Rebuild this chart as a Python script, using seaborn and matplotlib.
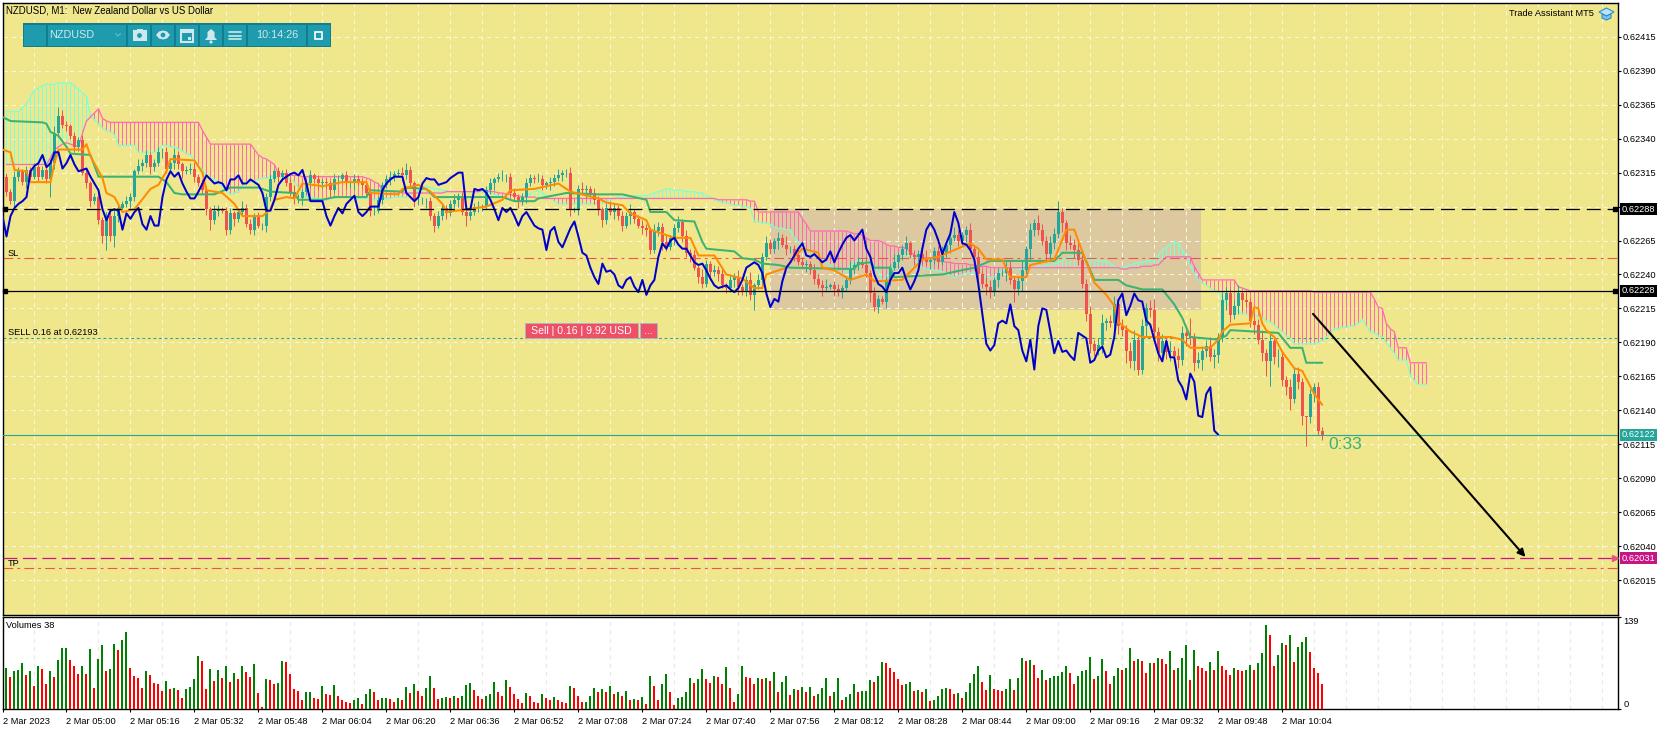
import numpy as np
import matplotlib
matplotlib.use("Agg")
import matplotlib.pyplot as plt
from matplotlib.patches import Rectangle, Circle, Polygon
import seaborn as sns

# M1 closes, read in points (1e-5). Blue chikou line is the same series moved 26 bars back
closes = [
    62301,62294,62312,62316,62308,62317,62312,62319,62312,62317,
    62310,62322,62344,62357,62350,62349,62342,62334,62339,62315,
    62307,62294,62297,62280,62268,62283,
    62268,62283,62289,62292,62294,62297,62316,62320,62322,62328,
    62319,62322,62330,62330,62318,62322,62328,62321,62316,62317,
    62318,62312,62307,62302,62288,62280,62287,62288,62287,62273,
    62285,62281,62286,62289,62277,62273,62283,62276,62276,62297,
    62310,62316,62312,62315,62307,62301,62296,62296,62301,62307,
    62313,62310,62307,62308,62307,62302,62310,62310,62313,62307,
    62307,62310,62308,62306,62300,62287,62287,62295,62306,62310,
    62312,62314,62315,62313,62317,62307,62294,62294,62294,62294,
    62283,62276,62283,62289,62285,62292,62295,62298,62286,62283,
    62286,62290,62290,62290,62302,62307,62310,62312,62312,62312,
    62300,62297,62294,62297,62307,62311,62310,62310,62306,62307,
    62308,62311,62313,62315,62315,62288,62288,62303,62302,62303,
    62300,62295,62288,62280,62289,62286,62289,62283,62276,62283,
    62286,62281,62276,62274,62273,62258,62272,62275,62264,
    62260,62267,62274,62279,62268,62256,62254,62245,62238,62233,
    62248,62242,62243,62240,62232,62230,62236,62238,62231,62227,
    62236,62225,62232,62236,62253,62263,62259,62265,62267,62262,
    62259,62259,62254,62249,62247,62248,62243,62237,62232,62230,
    62231,62232,62229,62227,62230,62236,62245,62247,62249,62247,
    62241,62226,62216,62222,62220,62235,62245,62249,62254,62259,
    62263,62254,62253,62255,62252,62249,62251,62257,62249,62256,
    62262,62267,62269,62265,62269,62273,62259,62253,62240,62233,
    62231,62227,62236,62241,62241,62245,62236,62229,62235,62243,
    62259,62273,62278,62273,62265,62255,62263,62270,62286,62278,
    62263,
    62262,62258,62251,62233,62211,62189,62184,62188,62204,62206,
    62204,62218,62202,62199,62184,62176,62192,62170,62202,62215,
    62214,62198,62182,62191,62183,62184,62180,62177,62197,62195,
    62193,62175,62177,62184,62187,62179,62181,62194,62221,
    62226,62210,62217,62226,62221,62220,62206,62203,62192,62182,
    62176,62191,62179,62179,62162,62157,62148,62167,62161,62136,
    62135,62152,62157,62125,62122,
]
first_open = 62312
wick_up = [
    3,2,4,3,2,3,2,3,2,3, 2,3,5,6,4,3,2,3,2,4, 3,2,3,4,2,3,4,5,3,2,
    4,3,2,5,3,4,2,3,4,3, 4,2,5,3,2,3,4,5,2,3, 3,2,4,3,2,3,4,2,3,5,
    3,4,2,3,2,3,4,2,3,2, 3,4,5,3,2,3,4,2,3,2, 3,2,4,3,2,3,2,4,3,2,
    3,2,4,3,2,3,4,2,3,4, 5,3,2,4,3,2,3,2,4,3, 2,3,4,2,3,5,2,3,4,2,
    3,4,2,3,5,2,3,4,2,3, 4,3,2,5,3,2,4,3,5,2, 3,4,2,3,5,3,2,4,3,2,
    4,5,3,2,4,3,6,2,3,4, 3,2,5,4,3,6,2,3,4,2, 5,3,4,2,6,3,2,4,3,5,
    2,4,3,5,2,3,6,2,4,3, 5,3,2,4,3,6,2,3,5,4, 3,2,5,3,4,6,2,3,4,2,
    3,5,2,4,3,6,2,5,3,2, 4,3,6,2,3,5,2,4,3,5, 6,2,3,4,5,2,3,6,4,2,
    3,5,2,4,3,6,5,2,4,3, 5,6,3,4,7,2,5,3,6,4, 3,5,4,8,3,2,6,4,5,3,
    4,6,3,5,7,2,4,6,3,5, 4,6,7,3,5,4,6,8,3,5, 4,7,3,6,5,2,13,4,6,3,
    5,7,4,3,6,5,3,4,6,2, 5,3,6,4,7,3,5,4,6,5, 3,6,4,5,3,0,4,3,4,3,
]
wick_dn = [
    3,2,4,3,2,4,3,2,3,2, 3,13,4,3,2,3,2,4,3,2, 3,4,2,3,5,10,3,8,4,3,
    2,5,3,2,4,3,5,3,2,4, 3,2,4,3,5,2,3,4,2,3, 4,7,3,4,2,4,3,5,2,3,
    2,3,4,2,3,5,3,2,4,3, 2,3,4,3,5,2,3,2,4,3, 3,4,2,3,2,4,3,5,2,3,
    2,4,3,2,3,2,4,3,2,4, 3,2,4,3,2,5,3,5,2,3, 4,2,3,5,2,7,3,2,4,3,
    2,3,5,2,3,4,3,2,5,3, 4,2,3,2,4,3,5,3,2,4, 3,5,2,4,3,6,2,3,4,5,
    3,2,5,3,4,2,6,3,2,4, 5,3,2,4,6,3,2,5,3,4, 3,5,2,4,3,2,6,3,5,2,
    4,3,5,6,2,3,4,11,3,5, 2,4,3,6,2,5,3,4,2,3, 5,3,4,2,6,3,2,5,3,4,
    2,3,5,4,2,3,6,3,4,2, 5,3,2,4,3,5,2,6,3,4, 2,5,3,4,2,3,6,2,4,3,
    5,2,4,8,3,6,4,3,5,2, 6,3,9,4,7,3,8,5,4,3, 6,5,4,3,7,5,3,6,4,3,
    5,7,4,3,6,5,3,8,6,4, 9,5,6,4,3,7,5,8,6,4, 5,7,3,6,4,8,5,6,4,7,
    5,3,8,6,4,7,5,3,6,8, 4,5,7,3,6,11,18,5,7,4, 6,8,3,5,7,21,4,6,3,4,
]
volumes = [
    62,48,58,59,70,52,58,35,65,60, 38,58,48,74,92,92,74,65,53,65,
    53,90,32,76,96,58,60,98,89,104, 116,62,50,47,32,58,52,40,38,28,
    42,30,32,29,17,30,34,46,80,72, 30,60,42,59,47,65,41,54,46,65,
    56,48,68,24,4,46,44,38,40,72, 71,53,30,28,14,26,26,17,15,35,
    23,22,36,20,14,11,10,14,17,8, 23,30,26,14,17,17,15,11,17,14,
    34,24,38,28,20,32,50,32,15,17, 18,17,20,17,20,36,40,29,20,15,
    20,23,41,26,20,44,34,23,15,10, 24,20,11,10,23,17,14,18,14,11,
    10,35,32,20,11,11,20,32,26,30, 26,35,23,26,20,28,14,15,14,18,
    8,50,35,14,38,53,26,6,17,18, 26,47,40,46,60,46,40,50,48,38,
    64,32,11,23,65,48,47,38,47,46, 47,42,56,26,41,50,22,30,29,34,
    26,34,20,23,32,47,20,26,47,14, 18,23,38,26,28,28,44,41,50,71,
    70,62,56,46,36,38,41,28,29,26, 30,12,14,20,30,32,30,23,24,17,
    26,40,53,65,41,29,52,30,29,28, 30,46,29,47,77,72,74,66,47,59,
    44,47,50,50,56,65,54,38,50,58, 59,78,46,50,76,58,38,50,62,59,
    62,92,72,76,72,54,70,69,77,76, 68,88,59,62,77,96,44,89,65,62,
    58,71,59,88,65,59,52,62,59,58, 59,66,59,70,85,126,112,65,82,100,
    96,112,71,94,101,108,86,62,54,38,
]
# Ichimoku cloud, one value per bar including the 26 bars ahead
span_a = [
    62360,62360,62360,62360,62363,62366,62371,62376,62377,62379,
    62380,62380,62380,62381,62381,62381,62381,62379,62376,62374,
    62371,62357,62354,62351,62348,62346,62345,62343,62335,62335,
    62335,62335,62335,62330,62330,62330,62330,62330,62332,62335,
    62335,62334,62334,62332,62331,62329,62328,62324,62320,62317,
    62313,62311,62310,62307,62305,62302,62299,62300,62301,62305,
    62308,62309,62309,62310,62311,62311,62312,62312,62312,62312,
    62312,62310,62308,62304,62301,62297,62297,62296,62296,62295,
    62295,62296,62296,62297,62297,62297,62297,62296,62296,62296,
    62296,62296,62295,62296,62296,62296,62296,62297,62297,62297,
    62297,62299,62300,62302,62304,62305,62304,62303,62303,62302,
    62302,62301,62301,62301,62301,62301,62301,62301,62301,62301,
    62301,62300,62299,62298,62297,62296,62295,62294,62295,62297,
    62298,62300,62301,62302,62300,62298,62296,62294,62292,62292,
    62292,62292,62292,62292,62292,62292,62292,62292,62292,62293,
    62294,62295,62296,62297,62297,62297,62297,62298,62298,62298,
    62298,62299,62300,62301,62302,62303,62303,62302,62302,62302,
    62301,62301,62301,62300,62300,62298,62297,62295,62294,62293,
    62293,62292,62291,62291,62290,62290,62289,62279,62279,62278,
    62278,62277,62275,62274,62274,62273,62273,62267,62264,62261,
    62258,62256,62254,62253,62251,62249,62247,62244,62242,62240,
    62243,62246,62248,62251,62251,62251,62248,62246,62243,62235,
    62238,62242,62246,62250,62254,62254,62254,62251,62248,62245,
    62244,62244,62243,62243,62242,62241,62239,62238,62239,62240,
    62241,62241,62242,62238,62238,62238,62238,62238,62240,62243,
    62243,62244,62244,62244,62244,62245,62245,62245,62246,62246,
    62247,62247,62248,62249,62250,62252,62253,62254,62252,62251,
    62251,62251,62251,62250,62250,62250,62248,62246,62244,62245,
    62246,62247,62248,62249,62249,62250,62250,62250,62254,62258,
    62260,62262,62264,62263,62258,62253,62247,62241,62236,62234,
    62232,62230,62228,62227,62223,62219,62217,62215,62213,62211,
    62211,62210,62210,62209,62208,62206,62205,62203,62200,62198,
    62195,62193,62189,62189,62189,62189,62189,62189,62190,62191,
    62194,62197,62200,62200,62201,62201,62202,62202,62204,62207,
    62202,62198,62197,62195,62194,62190,62186,62182,62177,62177,
    62177,62166,62162,62159,62159,62159,
]
span_b = (
    [62321]*11 + [62326,62332,62334,62336,62337,62336,62335,62334,62344,
    62353,62356,62359,62362,62355,62353] + [62352]*23 + [62346,62341]
    + [62336]*11 + [62332,62328,62326,62325,62323,62321,62314,62314,62314,
    62313,62313,62313] + [62312]*16 + [62311,62310,62308,62307,62302,62302,
    62301,62301,62301] + [62300]*11 + [62301]*9 + [62302]*2
    + [62301,62301,62300,62300,62299,62299,62298,62298,62297,62297,62297,
    62297] + [62296]*45 + [62295]*8 + [62294]*2 + [62286]*11
    + [62281,62277] + [62272]*10 + [62271,62270,62270,62269,62267,62265,
    62265,62265,62264,62262,62261,62261,62260,62260,62259,62257,62254,
    62253,62253,62252,62252,62251,62250,62250,62249,62249] + [62248]*4
    + [62247]*2 + [62246]*3 + [62245]*33 + [62244]*2
    + [62245,62245,62245,62246,62246,62246,62247,62247,62250]
    + [62253]*7 + [62246,62241] + [62236]*9 + [62231,62230,62229]
    + [62228]*16 + [62227]*15 + [62222,62216,62215,62204,62200,62198]
    + [62186]*3 + [62175]*5
)
kijun_bars = [-1,1,9,10,11,13,15,16,21,23,38,40,42,44,52,56,63,66,72,73,79,82,90,91,99,100,105,107,124,127,132,133,
              140,148,154,160,161,165,167,172,174,175,182,184,187,189,193,196,212,213,216,217,221,222,234,237,242,246,
              262,264,269,271,272,278,280,284,289,292,294,296,303,305,306,318,321,324,325,329]
kijun = [62356,62353,62352,62351,62345,62342,62334,62329,62328,62312,62312,62308,62300,62299,62299,62304,62304,62301,
         62300,62295,62295,62297,62297,62302,62301,62304,62303,62297,62297,62294,62294,62296,
         62300,62299,62299,62295,62286,62286,62280,62279,62264,62259,62257,62252,62251,62248,62247,62245,62244,62248,
         62249,62245,62245,62238,62240,62242,62245,62250,
         62250,62256,62256,62243,62236,62236,62232,62229,62229,62218,62208,62194,62192,62195,62199,62197,62186,62186,62175,62175]
tenkan_bars = [-1,1,2,5,6,11,12,13,19,20,21,24,25,27,29,32,36,38,40,41,47,49,50,54,57,59,64,66,67,70,72,74,79,84,90,91,98,99,
               103,106,109,110,115,120,124,126,132,138,141,148,150,154,156,160,161,164,165,167,171,173,177,180,184,187,189,
               190,195,197,199,203,204,207,211,215,217,224,229,233,241,243,245,249,251,255,256,262,265,267,269,272,275,277,
               278,281,284,291,294,296,301,303,304,306,311,312,313,314,315,317,319,322,324,327,329]
tenkan = [62332,62330,62317,62316,62308,62308,62322,62332,62332,62336,62327,62311,62300,62297,62286,62288,62303,62306,
          62316,62325,62324,62315,62302,62300,62292,62283,62283,62288,62295,62297,62296,62307,62305,62308,62308,62300,62299,62303,
          62306,62301,62292,62286,62288,62290,62295,62302,62303,62307,62301,62296,62293,62291,62285,62280,62273,62270,62269,62267,
          62267,62254,62254,62240,62237,62230,62230,
          62240,62245,62253,62259,62256,62245,62243,62236,62240,62235,62236,62251,62253,62263,62259,62251,62251,62238,62238,62247,
          62251,62273,62273,62257,62234,62225,62217,
          62205,62198,62194,62194,62192,62186,62186,62192,62198,62203,62204,62216,62215,62204,62199,62194,62183,62171,62169,62152,62144]
price_ticks = [62015,62040,62065,62090,62115,62140,62165,62190,62215,62240,62265,62290,62315,62340,62365,62390,62415]
time_labels = ["2 Mar 05:00","2 Mar 05:16","2 Mar 05:32","2 Mar 05:48","2 Mar 06:04","2 Mar 06:20","2 Mar 06:36",
               "2 Mar 06:52","2 Mar 07:08","2 Mar 07:24","2 Mar 07:40","2 Mar 07:56","2 Mar 08:12","2 Mar 08:28",
               "2 Mar 08:44","2 Mar 09:00","2 Mar 09:16","2 Mar 09:32","2 Mar 09:48","2 Mar 10:04"]

sns.set_theme(style="white", rc={"lines.scale_dashes": False, "axes.linewidth": 1.0})
plt.rcParams["font.family"] = ["Liberation Sans", "DejaVu Sans"]

W, H = 1670, 730
FS = 6.7
LINE_W = 1.45
closes_p = np.array(closes) / 1e5
opens_p = np.r_[first_open / 1e5, closes_p[:-1]]
highs = np.maximum(opens_p, closes_p) + np.array(wick_up) / 1e5
lows = np.minimum(opens_p, closes_p) - np.array(wick_dn) / 1e5
bars = np.arange(len(closes))
x_min, x_max = (2.5 - 6.2) / 4, (1617.5 - 6.2) / 4

fig = plt.figure(figsize=(W / 100, H / 100), dpi=100, facecolor="white")
ax = fig.add_axes([2.5 / W, 1 - 615 / H, 1615 / W, 612.5 / H], facecolor="#F0E68C")
ax_vol = fig.add_axes([2.5 / W, 1 - 709.3 / H, 1615 / W, 92.8 / H], facecolor="white")
ui = fig.add_axes([0, 0, 1, 1], zorder=5)
ui.set_xlim(0, W); ui.set_ylim(H, 0); ui.axis("off"); ui.patch.set_alpha(0)

# main panel
y_top, y_bot = 0.62288 + 206.8 / 135800, 0.62288 - 405.7 / 135800
ax.set_xlim(x_min, x_max)
ax.set_ylim(y_bot, y_top)
ax.add_patch(Rectangle((191, 0.62214), 107.6, 0.00074, color="#DCC9A0", lw=0, zorder=0.3))
ax.set_axisbelow(True)

grid_bars = np.arange(-1, 403, 8)
for a in (ax, ax_vol):
    a.set_xlim(x_min, x_max)
    for s in a.spines.values():
        s.set_color("black")

ax.set_xticks(grid_bars)
ax.set_yticks(np.array(price_ticks) / 1e5)
ax.set_yticklabels([f"{p / 1e5:.5f}" for p in price_ticks], fontsize=FS, color="black")
ax.yaxis.tick_right()
ax.tick_params(axis="x", length=0, labelbottom=False)
ax.tick_params(axis="y", length=2.5, width=0.8, pad=1, color="black", right=True)
ax.grid(True, color="#FBF8E4", lw=0.7, ls=(0, (3, 3)))

# cloud
cloud_bars = np.arange(len(span_a))
a_p, b_p = np.array(span_a) / 1e5, np.array(span_b) / 1e5
up_cloud = a_p >= b_p
ax.vlines(cloud_bars[up_cloud], b_p[up_cloud], a_p[up_cloud], color="#7FFFD4", lw=0.72, zorder=1)
ax.vlines(cloud_bars[~up_cloud], a_p[~up_cloud], b_p[~up_cloud], color="#FF69B4", lw=0.72, zorder=1)
sns.lineplot(x=cloud_bars, y=a_p, color="#7FFFD4", lw=0.9, ax=ax, zorder=1.1, estimator=None, legend=False)
sns.lineplot(x=cloud_bars, y=b_p, color="#FF69B4", lw=0.9, ax=ax, zorder=1.1, estimator=None, legend=False)

# candles
candle_cols = np.where(closes_p >= opens_p, "#26A69A", "#EF5350")
ax.vlines(bars, lows, highs, colors=candle_cols, lw=0.72, zorder=2)
ax.bar(bars, np.abs(closes_p - opens_p), bottom=np.minimum(opens_p, closes_p), width=0.74, color=candle_cols, lw=0, zorder=2.1)

# indicator lines
sns.lineplot(x=kijun_bars, y=np.array(kijun) / 1e5, color="#3CB371", lw=LINE_W, ax=ax, zorder=3, estimator=None, sort=False, legend=False)
sns.lineplot(x=tenkan_bars, y=np.array(tenkan) / 1e5, color="#FF8C00", lw=LINE_W, ax=ax, zorder=3.1, estimator=None, sort=False, legend=False)
sns.lineplot(x=bars[25:] - 26, y=closes_p[25:], color="#0000CD", lw=LINE_W, ax=ax, zorder=3.2, estimator=None, sort=False, legend=False)

# price lines
ax.axhline(0.62288, color="black", lw=0.9, ls=(0, (10, 5)), zorder=4)
ax.axhline(0.62228, color="black", lw=0.9, zorder=4)
ax.axhline(0.62252, color="#EF5350", lw=0.8, ls=(0, (7, 3, 2, 3)), zorder=1.5)
ax.axhline(0.62024, color="#EF5350", lw=0.8, ls=(0, (7, 3, 2, 3)), zorder=1.5)
ax.axhline(0.62193, color="#26A69A", lw=0.75, ls=(0, (2, 2)), zorder=1.5)
ax.axhline(0.62122, color="#26A69A", lw=0.8, zorder=4)
ax.axhline(0.62031, color="#C71585", lw=0.9, ls=(0, (10, 4)), zorder=4)
ax.annotate("", xy=(379.8, 0.62032), xytext=(326.7, 0.62211),
            arrowprops=dict(arrowstyle="-|>", color="black", lw=1.5, shrinkA=0, shrinkB=0, mutation_scale=11), zorder=4.5)
trans = ax.get_yaxis_transform()
for level in (0.62288, 0.62228):
    ax.plot([0.0015, 0.9985], [level, level], ls="", marker="s", ms=3.5, color="black", transform=trans, zorder=5, clip_on=False)
ax.plot([0.9985], [0.62031], ls="", marker=">", ms=4, color="#E75480", transform=trans, zorder=5, clip_on=False)
for level, bg in ((0.62288, "black"), (0.62228, "black"), (0.62122, "#26A69A"), (0.62031, "#C71585")):
    ax.text(1.0026, level, f"{level:.5f}", color="white", fontsize=FS, va="center", ha="left", transform=trans, zorder=6,
            bbox=dict(boxstyle="square,pad=0.17", fc=bg, ec=bg, lw=0), clip_on=False)
ax.text(330.5, 0.62122 - 0.00007, "0:33", color="#3CB371", fontsize=12.5, va="center", ha="left", zorder=5)

# volume panel
vol = np.array(volumes)
vol_dir = np.where(np.r_[True, vol[1:] >= vol[:-1]], "up", "down")
sns.barplot(x=bars, y=vol, hue=vol_dir, palette={"up": "#008000", "down": "#FF0000"}, native_scale=True, dodge=False,
            width=0.5, saturation=1, legend=False, ax=ax_vol, zorder=3, linewidth=0)
ax_vol.set_xlim(x_min, x_max)
ax_vol.set_ylim(0, 139.5)
ax_vol.set_xlabel(""); ax_vol.set_ylabel("")
ax_vol.set_axisbelow(True)
ax_vol.set_xticks(grid_bars, minor=True)
ax_vol.grid(True, which="minor", axis="x", color="#E8E8E8", lw=0.8, ls=(0, (3, 3)))
ax_vol.tick_params(axis="x", which="minor", length=0)
tick_bars = np.arange(15, 15 + 16 * len(time_labels), 16)
ax_vol.set_xticks(np.r_[-0.9, tick_bars])
ax_vol.set_xticklabels(["2 Mar 2023"] + time_labels, fontsize=FS, ha="left", color="black")
ax_vol.tick_params(axis="x", which="major", length=2.5, width=0.8, pad=3, color="black", bottom=True)
ax_vol.yaxis.tick_right()
ax_vol.set_yticks([0, 139])
ax_vol.set_yticklabels(["0", "139"], fontsize=FS, color="black")
ax_vol.get_yticklabels()[1].set_va("top")
ax_vol.get_yticklabels()[0].set_va("bottom")
ax_vol.tick_params(axis="y", length=2.5, width=0.8, pad=2, color="black", right=True)

# texts and panels drawn in pixel space
ui.text(6.5, 10.5, "NZDUSD, M1:  New Zealand Dollar vs US Dollar", fontsize=6.95, va="center", color="black")
ui.text(1509, 14, "Trade Assistant MT5", fontsize=FS, va="center", color="black")
ui.text(7.5, 253, "SL", fontsize=FS, va="center", color="black")
ui.text(7.5, 332.5, "SELL 0.16 at 0.62193", fontsize=FS, va="center", color="black")
ui.text(7.5, 563.5, "TP", fontsize=FS, va="center", color="black")
ui.text(5.5, 625.7, "Volumes 38", fontsize=FS, va="center", color="black")

ui.add_patch(Polygon([(1599, 12), (1606.5, 8), (1614, 12), (1606.5, 16)], fc="#BFE3F5", ec="#2A8FD0", lw=0.8))
ui.add_patch(Polygon([(1602, 14), (1602, 18), (1606.5, 20), (1611, 18), (1611, 14), (1606.5, 16)], fc="#7CC4EC", ec="#2A8FD0", lw=0.8))

# toolbar
ui.add_patch(Rectangle((23, 23), 308, 24, fc="#0F7E8E", lw=0))
for x0, x1 in ((24, 46), (47.5, 126), (128, 150), (152, 174), (176, 198), (200, 222), (224, 246), (248, 306), (308, 330)):
    ui.add_patch(Rectangle((x0, 24.5), x1 - x0, 21, fc="#1E9CAE", lw=0))
ICON = "#CFE8EC"
ui.text(49.5, 35, "NZDUSD", fontsize=7.8, color=ICON, va="center")
ui.text(277, 35, "10:14:26", fontsize=7.8, color=ICON, va="center", ha="center")
ui.plot([115.5, 118, 120.5], [33.5, 36, 33.5], color="#5FBCCB", lw=0.8)
ui.add_patch(Rectangle((132.5, 30), 14, 11, fc=ICON, lw=0))
ui.add_patch(Rectangle((136.5, 28.5), 6, 2, fc=ICON, lw=0))
ui.add_patch(Circle((139.5, 35.5), 3, fc="#1E9CAE", ec=ICON, lw=0.8))
ui.add_patch(Polygon([(156, 35), (159, 31.5), (163, 30.5), (167, 31.5), (170, 35), (167, 38.5), (163, 39.5), (159, 38.5)], fc=ICON, lw=0))
ui.add_patch(Circle((163, 35), 3, fc="#1E9CAE", ec=ICON, lw=0.8))
ui.add_patch(Rectangle((181, 30), 12, 12, fc="#1E9CAE", ec=ICON, lw=1.5))
ui.add_patch(Rectangle((181, 29), 12, 3.5, fc=ICON, lw=0))
ui.add_patch(Rectangle((188, 36.5), 3, 3, fc=ICON, lw=0))
ui.add_patch(Polygon([(205, 40), (207.5, 37), (207.5, 32), (211, 29), (214.5, 32), (214.5, 37), (217, 40)], fc=ICON, lw=0))
ui.add_patch(Circle((211, 42), 1.6, fc=ICON, lw=0))
for y in (32, 35.5, 39):
    ui.plot([229, 241], [y, y], color=ICON, lw=1.2)
ui.add_patch(Rectangle((314.5, 31.5), 7, 7, fc="#1E9CAE", ec="white", lw=1.2))

# sell panel
ui.add_patch(Rectangle((525, 322.5), 113, 15.5, fc="#EE5067", ec="#9DBBD0", lw=0.6))
ui.add_patch(Rectangle((640, 322.5), 16.5, 15.5, fc="#EE5067", ec="#9DBBD0", lw=0.6))
ui.text(581.5, 330.5, "Sell | 0.16 | 9.92 USD", fontsize=7.6, color="white", va="center", ha="center")
ui.text(648, 330.5, "...", fontsize=7.6, color="white", va="center", ha="center")

fig.savefig("out.png", dpi=100)
